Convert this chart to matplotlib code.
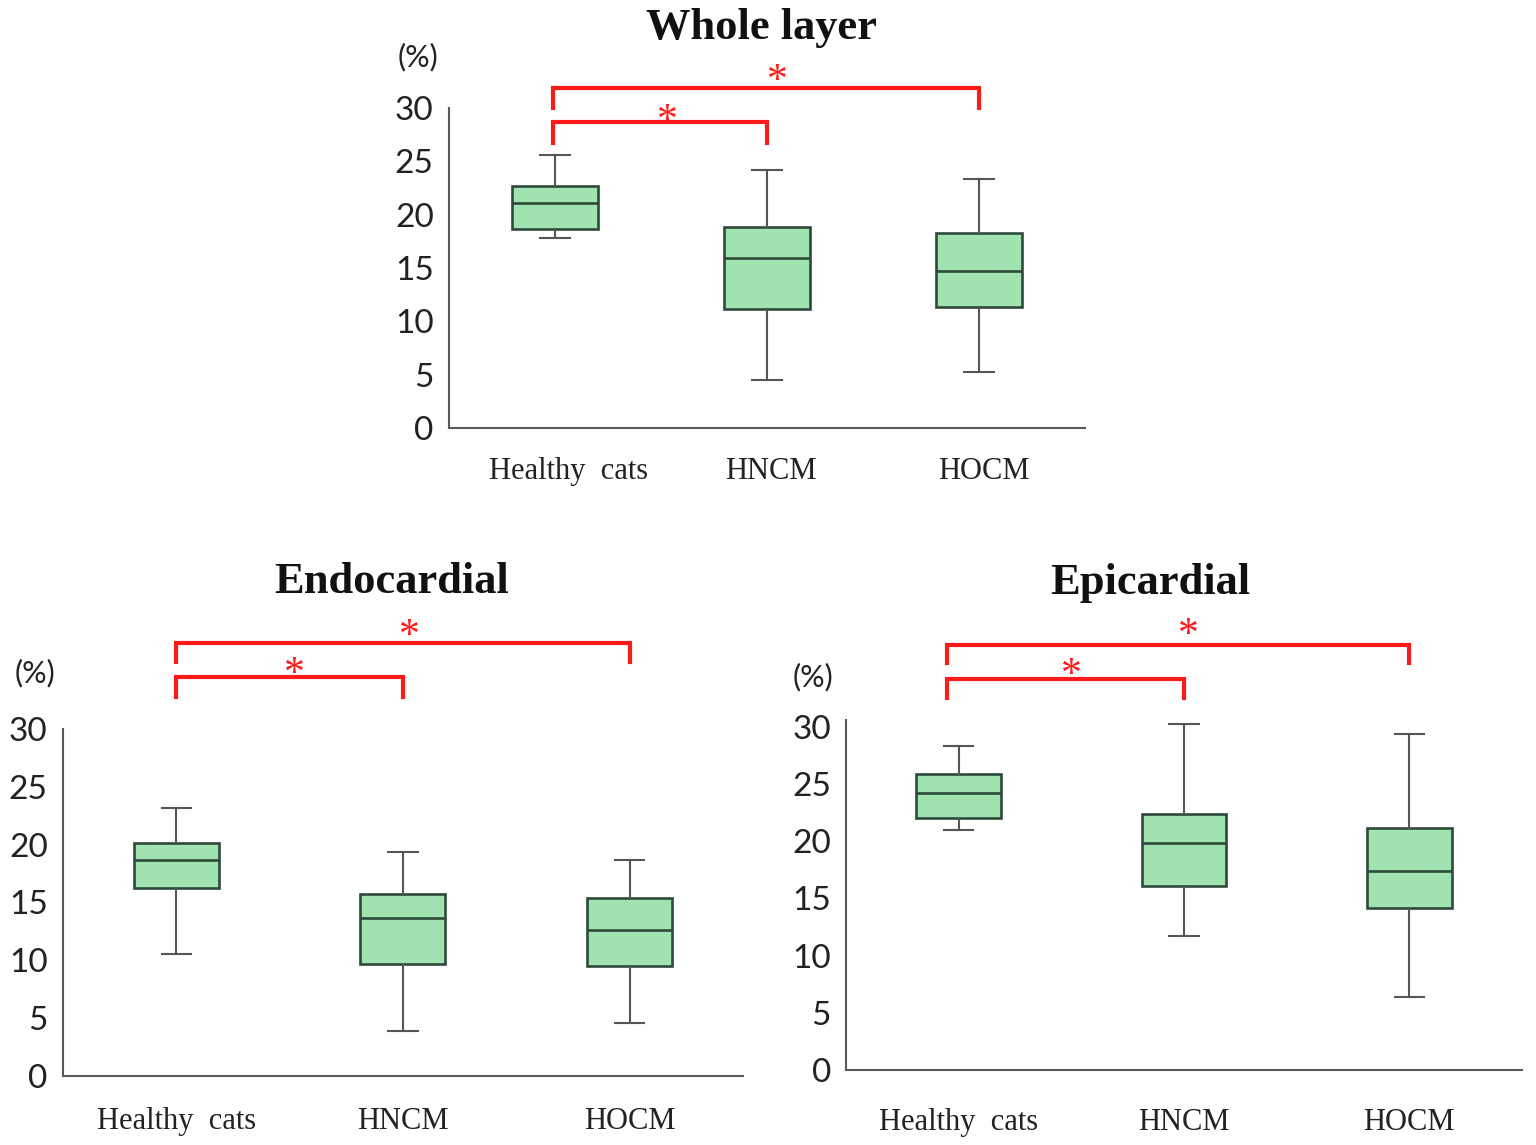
import matplotlib
matplotlib.use("Agg")
import matplotlib.pyplot as plt
from matplotlib.transforms import ScaledTranslation

GROUPS = ["Healthy  cats", "HNCM", "HOCM"]

# whisker low, Q1, median, Q3, whisker high for each group
WHOLE_LOW = [17.8, 4.5, 5.25]
WHOLE_Q1 = [18.65, 11.15, 11.3]
WHOLE_MED = [21.1, 15.9, 14.7]
WHOLE_Q3 = [22.7, 18.8, 18.3]
WHOLE_HIGH = [25.6, 24.2, 23.3]

ENDO_LOW = [10.55, 3.9, 4.6]
ENDO_Q1 = [16.25, 9.7, 9.5]
ENDO_MED = [18.7, 13.65, 12.6]
ENDO_Q3 = [20.1, 15.7, 15.4]
ENDO_HIGH = [23.2, 19.4, 18.7]

EPI_LOW = [21.0, 11.7, 6.4]
EPI_Q1 = [22.05, 16.1, 14.2]
EPI_MED = [24.2, 19.85, 17.4]
EPI_Q3 = [25.9, 22.4, 21.2]
EPI_HIGH = [28.3, 30.3, 29.4]

BOX_FILL = "#a0e3b1"
BOX_EDGE = "#2e4a3b"
WHISK = "#555555"
RED = "#ff1a1a"

W, H = 1536, 1145


def px(x, y):
    return x / W, 1 - y / H


def make_stats(low, q1, med, q3, high):
    stats = []
    for i in range(len(GROUPS)):
        stats.append({"whislo": low[i], "q1": q1[i], "med": med[i],
                      "q3": q3[i], "whishi": high[i], "fliers": []})
    return stats


def draw_panel(ax, stats, ymax, box_w, cap_w, brackets, x1=1.0, xpad=19, label_shift=None):
    ax.bxp(stats, positions=[1, 2, 3], widths=box_w, capwidths=cap_w,
           patch_artist=True, showfliers=False,
           boxprops=dict(facecolor=BOX_FILL, edgecolor=BOX_EDGE, linewidth=1.9),
           medianprops=dict(color=BOX_EDGE, linewidth=1.9),
           whiskerprops=dict(color=WHISK, linewidth=1.5),
           capprops=dict(color=WHISK, linewidth=1.5))
    ax.set_xlim(0.5, 3.5)
    ax.set_ylim(0, ymax)
    ax.set_yticks([0, 5, 10, 15, 20, 25, 30])
    ax.set_xticks([1, 2, 3])
    ax.set_xticklabels(GROUPS, family="Liberation Serif", fontsize=22, color="#222222")
    for lab in ax.get_yticklabels():
        lab.set_family("Lato")
        lab.set_fontsize(24)
        lab.set_color("#222222")
    ax.tick_params(axis="y", length=0, pad=11)
    ax.tick_params(axis="x", length=0, pad=xpad)
    if label_shift:
        for lab, dx in zip(ax.get_xticklabels(), label_shift):
            lab.set_transform(lab.get_transform() + ScaledTranslation(dx / 100, 0, fig.dpi_scale_trans))
    for side in ["top", "right"]:
        ax.spines[side].set_visible(False)
    for side in ["left", "bottom"]:
        ax.spines[side].set_color("#5a5a5a")
        ax.spines[side].set_linewidth(1.5)
    ax.set_facecolor("none")

    for x2, y_bar, y_leg, x_star, y_star in brackets:
        ax.plot([x1, x1, x2, x2], [y_leg, y_bar, y_bar, y_leg], color=RED,
                linewidth=3.0, clip_on=False, solid_joinstyle="miter")
        ax.text(x_star, y_star, "*", color=RED, fontsize=30,
                family="Liberation Serif", ha="center", va="center", clip_on=False)


fig = plt.figure(figsize=(15.36, 11.45), dpi=100)

ax_top = fig.add_axes([0.2923, 0.6262, 0.4141, 0.2795])
draw_panel(ax_top, make_stats(WHOLE_LOW, WHOLE_Q1, WHOLE_MED, WHOLE_Q3, WHOLE_HIGH),
           30, 0.41, 0.14,
           [(2, 28.7, 26.7, 1.53, 28.7), (3, 31.9, 30.0, 2.05, 32.5)],
           x1=0.99, xpad=21, label_shift=[14, 4, 5])

ax_endo = fig.add_axes([0.0410, 0.0603, 0.4427, 0.3031])
draw_panel(ax_endo, make_stats(ENDO_LOW, ENDO_Q1, ENDO_MED, ENDO_Q3, ENDO_HIGH),
           30, 0.375, 0.13,
           [(2, 34.5, 32.8, 1.52, 34.7), (3, 37.4, 35.8, 2.03, 38.0)],
           xpad=22)

ax_epi = fig.add_axes([0.5508, 0.0655, 0.4401, 0.3056])
draw_panel(ax_epi, make_stats(EPI_LOW, EPI_Q1, EPI_MED, EPI_Q3, EPI_HIGH),
           30.6, 0.375, 0.13,
           [(2, 34.2, 32.5, 1.50, 34.5), (3, 37.2, 35.6, 2.02, 38.0)],
           x1=0.95, xpad=27)

titles = [("Whole layer", 762, 28), ("Endocardial", 392, 582), ("Epicardial", 1150, 583)]
for text, x, y in titles:
    fx, fy = px(x, y)
    fig.text(fx, fy, text, family="Liberation Serif", fontweight="bold",
             fontsize=32, ha="center", va="center", color="#111111")

for x, y in [(418, 57), (35, 673), (813, 677)]:
    fx, fy = px(x, y)
    fig.text(fx, fy, "(%)", family="Lato", fontsize=22, ha="center", va="center",
             color="#222222")

fig.savefig("out.png", dpi=100, facecolor="white")
